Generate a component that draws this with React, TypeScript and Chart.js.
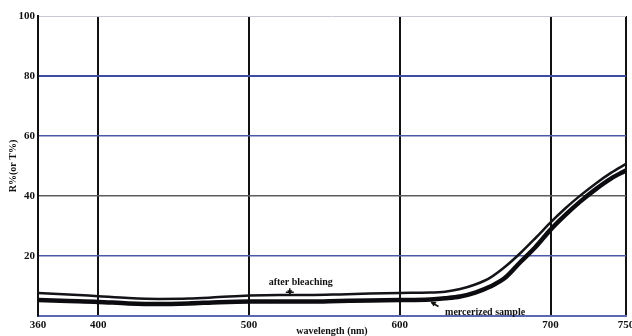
import React, { useEffect, useRef } from 'react';
import { Chart, registerables } from 'chart.js';

Chart.register(...registerables);

const wavelengths = [360, 380, 400, 420, 440, 460, 480, 500, 520, 540, 560, 580, 600, 620, 630, 640, 650, 660, 670, 680, 690, 700, 710, 720, 730, 740, 750];
const afterBleaching = [7.7, 7.2, 6.6, 6.0, 5.7, 5.8, 6.3, 6.8, 7.0, 7.0, 7.2, 7.5, 7.7, 7.8, 8.1, 9.0, 10.5, 12.8, 16.5, 21.0, 26.0, 31.2, 36.0, 40.3, 44.2, 47.7, 50.7];
const mercerized = [5.3, 5.0, 4.7, 4.2, 4.0, 4.2, 4.6, 4.8, 4.8, 4.8, 5.0, 5.2, 5.3, 5.5, 5.9, 6.5, 7.8, 9.8, 12.8, 18.0, 23.0, 28.8, 33.8, 38.3, 42.3, 45.8, 48.5];
const xTicks = [360, 400, 500, 600, 700, 750];
const yTicks = [0, 20, 40, 60, 80, 100];
const hGridColors: Record<number, string> = { 0: '#5a68b0', 20: '#4b5aa8', 40: '#5c5c5c', 60: '#4b5aa8', 80: '#3d4c9e', 100: '#c9c9d6' };
const hGridWidths: Record<number, number> = { 0: 1.5, 20: 1.5, 40: 1.5, 60: 1.5, 80: 2, 100: 1 };

const SERIF = '"Liberation Serif", "DejaVu Serif", serif';

const annotations = {
  id: 'annotations',
  afterDatasetsDraw(chart: any) {
    const { ctx, scales } = chart;
    const x = scales.x;
    const y = scales.y;
    ctx.save();
    ctx.fillStyle = '#111';
    ctx.strokeStyle = '#111';
    ctx.font = `bold 10px ${SERIF}`;
    ctx.textBaseline = 'middle';
    ctx.textAlign = 'left';
    // after bleaching label
    ctx.fillText('after bleaching', x.getPixelForValue(513), y.getPixelForValue(11.3));
    // small star-like marker
    const ax = x.getPixelForValue(527);
    const ay = y.getPixelForValue(7.6);
    ctx.lineWidth = 1.5;
    ctx.beginPath();
    ctx.moveTo(ax, ay - 5);
    ctx.lineTo(ax, ay + 2);
    ctx.moveTo(ax - 4, ay - 1);
    ctx.lineTo(ax + 4, ay - 1);
    ctx.stroke();
    ctx.beginPath();
    ctx.moveTo(ax - 2.5, ay - 3);
    ctx.lineTo(ax + 2.5, ay - 3);
    ctx.lineTo(ax, ay + 2);
    ctx.closePath();
    ctx.fill();
    // mercerized label
    ctx.fillText('mercerized sample', x.getPixelForValue(630), y.getPixelForValue(1.3));
    const bx = x.getPixelForValue(621);
    const by = y.getPixelForValue(4.5);
    ctx.beginPath();
    ctx.moveTo(bx, by);
    ctx.lineTo(bx + 7, by + 4);
    ctx.stroke();
    ctx.beginPath();
    ctx.moveTo(bx - 1, by - 1);
    ctx.lineTo(bx + 5, by - 0.5);
    ctx.lineTo(bx + 2, by + 4);
    ctx.closePath();
    ctx.fill();
    ctx.restore();
  },
};

export default function App() {
  const ref = useRef<HTMLCanvasElement | null>(null);
  useEffect(() => {
    document.body.style.margin = '0';
    const canvas = ref.current;
    if (!canvas) return;
    const chart = new Chart(canvas, {
      type: 'line',
      data: {
        datasets: [
          {
            label: 'after bleaching',
            data: wavelengths.map((w, i) => ({ x: w, y: afterBleaching[i] })),
            borderColor: '#141418',
            borderWidth: 2.5,
            pointRadius: 0,
            cubicInterpolationMode: 'monotone',
            fill: false,
          },
          {
            label: 'mercerized sample',
            data: wavelengths.map((w, i) => ({ x: w, y: mercerized[i] })),
            borderColor: '#0c0c10',
            borderWidth: 4.5,
            pointRadius: 0,
            cubicInterpolationMode: 'monotone',
            fill: false,
          },
        ],
      },
      options: {
        animation: false,
        responsive: false,
        devicePixelRatio: 1,
        layout: { padding: { top: 16, right: 6, left: 0, bottom: 0 } },
        plugins: { legend: { display: false }, tooltip: { enabled: false } },
        scales: {
          x: {
            type: 'linear',
            min: 360,
            max: 750,
            afterBuildTicks: (s: any) => {
              s.ticks = xTicks.map((v) => ({ value: v }));
            },
            afterFit: (s: any) => {
              s.height = 20;
              s.paddingLeft = 0;
              s.paddingRight = 0;
            },
            grid: { color: '#121212', lineWidth: 2, drawTicks: false },
            border: { display: true, color: '#5a68b0', width: 2 },
            ticks: {
              font: { family: SERIF, weight: 'bold', size: 11 },
              color: '#111',
              padding: 3,
              maxRotation: 0,
              autoSkip: false,
              callback: (v: any) => String(v),
            },
            title: {
              display: true,
              text: 'wavelength (nm)',
              font: { family: SERIF, weight: 'bold', size: 10 },
              color: '#111',
              padding: { top: 0, bottom: -1 },
            },
          },
          y: {
            min: 0,
            max: 100,
            afterBuildTicks: (s: any) => {
              s.ticks = yTicks.map((v) => ({ value: v }));
            },
            afterFit: (s: any) => {
              s.width = 38;
              s.paddingTop = 0;
              s.paddingBottom = 0;
            },
            grid: {
              color: (c: any) => hGridColors[c.tick?.value] ?? '#555',
              lineWidth: (c: any) => hGridWidths[c.tick?.value] ?? 1,
              drawTicks: false,
            },
            border: { display: true, color: '#111', width: 2 },
            ticks: {
              font: { family: SERIF, weight: 'bold', size: 11 },
              color: '#111',
              padding: 3,
              autoSkip: false,
              callback: (v: any) => (v === 0 ? '' : String(v)),
            },
            title: {
              display: true,
              text: 'R%(or T%)',
              font: { family: SERIF, weight: 'bold', size: 10 },
              color: '#111',
              padding: { top: 7, bottom: 0 },
            },
          },
        },
      },
      plugins: [annotations],
    } as any);
    return () => chart.destroy();
  }, []);
  return (
    <div style={{ position: 'fixed', left: 0, top: 0, width: 632, height: 336, background: '#fff' }}>
      <canvas ref={ref} width={632} height={336} style={{ width: 632, height: 336, display: 'block' }} />
    </div>
  );
}
